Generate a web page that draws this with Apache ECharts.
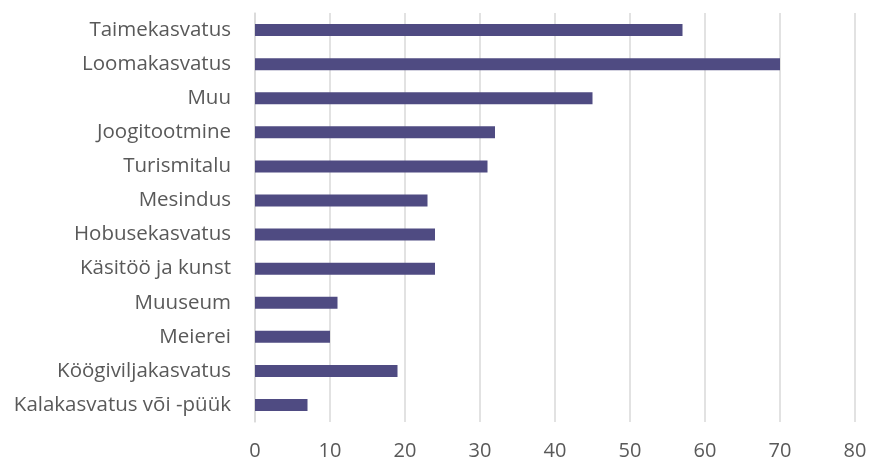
<!DOCTYPE html>
<html>
<head>
<meta charset="utf-8">
<script src="https://cdn.jsdelivr.net/npm/echarts@6/dist/echarts.min.js"></script>
<style>
  html, body { margin: 0; padding: 0; background: #fff; }
  #chart { width: 870px; height: 461px; }
</style>
</head>
<body>
<div id="chart"></div>
<script>
// categories listed top to bottom as in the picture
const categories = [
    'Taimekasvatus', 'Loomakasvatus', 'Muu', 'Joogitootmine', 'Turismitalu',
    'Mesindus', 'Hobusekasvatus', 'Käsitöö ja kunst', 'Muuseum', 'Meierei',
    'Köögiviljakasvatus', 'Kalakasvatus või -püük'
];
const values = [57, 70, 45, 32, 31, 23, 24, 24, 11, 10, 19, 7];
const xTicks = [0, 10, 20, 30, 40, 50, 60, 70, 80];

const chart = echarts.init(document.getElementById('chart'));
const font = 'Open Sans';

const option = {
    animation: false,
    grid: { left: 255, right: 15, top: 13, bottom: 39 },
    xAxis: {
        type: 'value',
        min: xTicks[0],
        max: xTicks[xTicks.length - 1],
        interval: 10,
        axisLine: { show: false },
        axisTick: { show: false },
        splitLine: { lineStyle: { color: '#d9d9d9', width: 1.5 } },
        axisLabel: { color: '#595959', fontFamily: font, fontSize: 20, margin: 19 }
    },
    yAxis: {
        type: 'category',
        inverse: true,
        data: categories,
        axisLine: { lineStyle: { color: '#d9d9d9', width: 1.5 } },
        axisTick: { show: false },
        axisLabel: { color: '#595959', fontFamily: font, fontSize: 20.5, margin: 24 }
    },
    series: [{
        type: 'bar',
        data: values,
        barWidth: 12,
        itemStyle: { color: '#4f4b82' }
    }]
};

chart.setOption(option);
</script>
</body>
</html>
